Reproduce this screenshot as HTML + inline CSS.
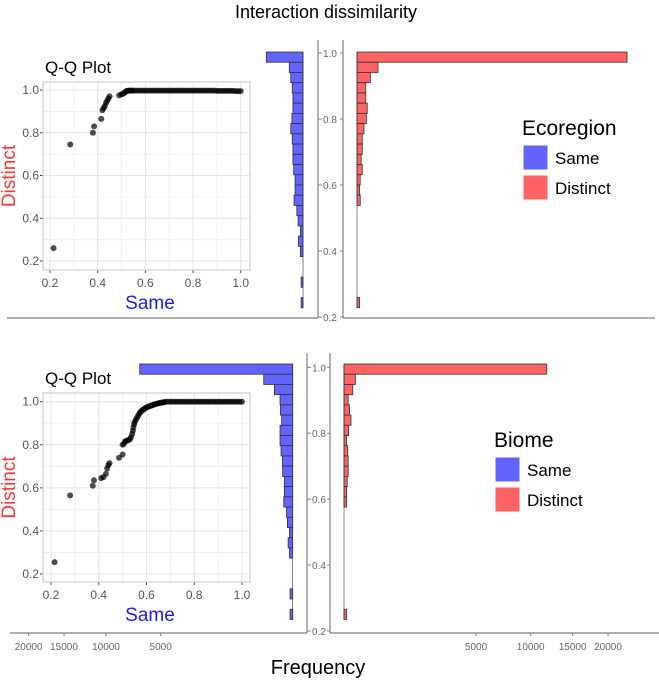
<!DOCTYPE html>
<html><head><meta charset="utf-8"><style>
body{margin:0;background:#fff;}
svg{display:block;font-family:"Liberation Sans",sans-serif;}
</style></head><body>
<svg id="fig" width="659" height="682" viewBox="0 0 659 682">
<text x="326" y="18" font-size="18" text-anchor="middle" fill="#000">Interaction dissimilarity</text>
<text x="318" y="674" font-size="20" text-anchor="middle" fill="#000">Frequency</text>
</svg>
<script>
// Histogram data: bins from top (≈1.0) downward, bin width ~0.031
const ecoSame = [386,54,43,33,29,29,35,43,33,29,29,25,18,18,23,11,7,2,6,2,0,0,1,0,1];
const ecoDistinct = [20915,127,51,22,22,30,25,14,8,8,5,8,3,2,3,0,0,0,0,0,0,0,0,0,2];
const biomeSame = [6716,241,96,46,43,35,46,46,39,30,29,20,20,23,11,8,3,6,3,0,0,0,2,0,2];
const biomeDistinct = [11790,37,22,5,9,14,6,2,4,5,5,3,2,2,0,0,0,0,0,0,0,0,0,0,2];
const freqTicks = [5000,10000,15000,20000];
const valueTicks = [0.2,0.4,0.6,0.8,1.0];
const qqTicks = [0.2,0.4,0.6,0.8,1.0];
// Q-Q points (Same quantile, Distinct quantile)
const ecoQQx = [0.215,0.285,0.38,0.385,0.415,0.42,0.425,0.43,0.435,0.44,0.445,0.45,0.49,0.5,0.505,0.51,0.515,0.52,0.525,0.53,0.535,0.54,0.545,0.55,0.56,0.57,0.58,0.59,0.6,0.61,0.62,0.63,0.64,0.65,0.66,0.67,0.68,0.69,0.7,0.71,0.72,0.73,0.74,0.75,0.76,0.77,0.78,0.79,0.8,0.81,0.82,0.83,0.84,0.85,0.86,0.87,0.88,0.89,0.9,0.91,0.92,0.93,0.94,0.95,0.96,0.97,0.98,0.99,1.0];
const ecoQQy = [0.26,0.745,0.8,0.83,0.865,0.905,0.915,0.925,0.94,0.95,0.96,0.97,0.975,0.98,0.982,0.985,0.99,0.995,0.996,0.997,0.997,0.997,0.997,0.997,0.997,0.997,0.997,0.997,0.997,0.997,0.997,0.997,0.997,0.997,0.997,0.997,0.997,0.997,0.997,0.997,0.997,0.997,0.997,0.997,0.997,0.997,0.997,0.997,0.997,0.997,0.997,0.997,0.997,0.997,0.997,0.997,0.997,0.997,0.996,0.996,0.996,0.996,0.996,0.996,0.996,0.996,0.995,0.995,0.995];
const biomeQQx = [0.215,0.28,0.375,0.38,0.41,0.42,0.43,0.435,0.44,0.445,0.485,0.5,0.5,0.505,0.51,0.515,0.52,0.525,0.53,0.535,0.54,0.543,0.545,0.548,0.55,0.555,0.56,0.565,0.57,0.575,0.58,0.585,0.59,0.595,0.6,0.605,0.61,0.615,0.62,0.625,0.63,0.635,0.64,0.645,0.65,0.655,0.66,0.665,0.67,0.675,0.68,0.69,0.7,0.71,0.72,0.73,0.74,0.75,0.76,0.77,0.78,0.79,0.8,0.81,0.82,0.83,0.84,0.85,0.86,0.87,0.88,0.89,0.9,0.91,0.92,0.93,0.94,0.95,0.96,0.97,0.98,0.99,1.0];
const biomeQQy = [0.255,0.565,0.61,0.635,0.645,0.65,0.665,0.69,0.705,0.715,0.74,0.755,0.8,0.805,0.815,0.818,0.82,0.822,0.825,0.835,0.85,0.865,0.88,0.895,0.905,0.915,0.925,0.935,0.945,0.952,0.958,0.962,0.966,0.97,0.973,0.976,0.978,0.98,0.982,0.984,0.986,0.988,0.99,0.991,0.992,0.994,0.995,0.996,0.997,0.998,1.0,1.0,1.0,1.0,1.0,1.0,1.0,1.0,1.0,1.0,1.0,1.0,1.0,1.0,1.0,1.0,1.0,1.0,1.0,1.0,1.0,1.0,1.0,1.0,1.0,1.0,1.0,1.0,1.0,1.0,1.0,1.0,1.0];

const NS='http://www.w3.org/2000/svg';
const svg=document.getElementById('fig');
function el(tag,attrs,parent,text){const e=document.createElementNS(NS,tag);for(const k in attrs)e.setAttribute(k,attrs[k]);if(text!==undefined)e.textContent=text;(parent||svg).appendChild(e);return e;}
const K=1.867;
function fx(v){return Math.sqrt(v)*K;}
const BLUE='#6363ff', RED='#ff6363', AX='#7f7f7f';

function panel(cfg){
  const g=el('g',{});
  
  
  const vy=v=>cfg.y1+(1-v)*cfg.ppu;
  cfg.same.forEach((c,i)=>{
    if(c<=0)return;
    const top=vy(cfg.top0-i*0.031);
    const w=fx(c);
    const r=el('rect',{x:cfg.sameBase-w,y:top,width:w,height:0.031*cfg.ppu,fill:BLUE,stroke:'#333','stroke-width':0.8},g);
    
    
  });
  el('line',{x1:cfg.sameBase,x2:cfg.sameBase,y1:vy(cfg.top0),y2:vy(cfg.top0-25*0.031),stroke:'#333','stroke-width':0.6},g);
  cfg.dist.forEach((c,i)=>{
    if(c<=0)return;
    const top=vy(cfg.top0-i*0.031);
    const w=fx(c);
    const r=el('rect',{x:cfg.distBase,y:top,width:w,height:0.031*cfg.ppu,fill:RED,stroke:'#333','stroke-width':0.8},g);
    
    
  });
  el('line',{x1:cfg.distBase,x2:cfg.distBase,y1:vy(cfg.top0),y2:vy(cfg.top0-25*0.031),stroke:'#333','stroke-width':0.6},g);
  el('line',{x1:cfg.leftX0,x2:cfg.midLine,y1:cfg.bottom,y2:cfg.bottom,stroke:AX,'stroke-width':1.2},g);
  el('line',{x1:cfg.midLine,x2:cfg.midLine,y1:cfg.axTop,y2:cfg.bottom,stroke:AX,'stroke-width':1.2},g);
  el('line',{x1:cfg.axisX,x2:cfg.axisX,y1:cfg.axTop,y2:cfg.bottom,stroke:AX,'stroke-width':1.2},g);
  el('line',{x1:cfg.axisX,x2:cfg.rightEnd,y1:cfg.bottom,y2:cfg.bottom,stroke:AX,'stroke-width':1.2},g);
  valueTicks.forEach(t=>{
    el('line',{x1:cfg.midLine,x2:cfg.midLine+4,y1:vy(t),y2:vy(t),stroke:AX},g);
    el('line',{x1:cfg.axisX-3,x2:cfg.axisX,y1:vy(t),y2:vy(t),stroke:AX},g);
    const tx=el('text',{x:cfg.midLine+5,y:vy(t)+4,'font-size':10,fill:'#666'},g,t.toFixed(1));
    
    
  });
  if(cfg.freqTicks){
    freqTicks.forEach(t=>{
      const xl=cfg.sameBase-fx(t), xr=cfg.distBase+fx(t);
      el('line',{x1:xl,x2:xl,y1:cfg.bottom,y2:cfg.bottom+3,stroke:AX},g);
      el('line',{x1:xr,x2:xr,y1:cfg.bottom,y2:cfg.bottom+3,stroke:AX},g);
      const a=el('text',{x:xl,y:cfg.bottom+17,'font-size':10,fill:'#666','text-anchor':'middle'},g,String(t));
      
      
      const b=el('text',{x:xr,y:cfg.bottom+17,'font-size':10,fill:'#666','text-anchor':'middle'},g,String(t));
      
      
    });
  }
  const L=cfg.leg;
  const lt=el('text',{x:L.x,y:L.y,'font-size':21,fill:'#000'},g,cfg.legTitle);
  
  
  const k1=el('rect',{x:L.x+1,y:L.y+10,width:25,height:25,fill:BLUE,stroke:'#fff'},g);
  
  
  const k2=el('rect',{x:L.x+1,y:L.y+40,width:25,height:25,fill:RED,stroke:'#fff'},g);
  
  
  const s1=el('text',{x:L.x+33,y:L.y+29,'font-size':17,fill:'#000'},g,'Same');
  
  
  const s2=el('text',{x:L.x+33,y:L.y+59,'font-size':17,fill:'#000'},g,'Distinct');
  
  
  const q=cfg.qq;
  const qx=v=>q.x02+(v-0.2)/0.8*(q.x10-q.x02);
  const qy=v=>q.y02-(v-0.2)/0.8*(q.y02-q.y10);
  const qg=el('g',{},g);
  
  
  el('rect',{x:q.l,y:q.t,width:q.r-q.l,height:q.b-q.t,fill:'#fff'},qg);
  for(let v=0.1;v<=1.05;v+=0.1){
    const X=qx(v),Y=qy(v);
    if(X>q.l&&X<q.r)el('line',{x1:X,x2:X,y1:q.t,y2:q.b,stroke:'#f0f0f0'},qg);
    if(Y>q.t&&Y<q.b)el('line',{x1:q.l,x2:q.r,y1:Y,y2:Y,stroke:'#f0f0f0'},qg);
  }
  qqTicks.forEach(t=>{
    el('line',{x1:qx(t),x2:qx(t),y1:q.t,y2:q.b,stroke:'#e6e6e6'},qg);
    el('line',{x1:q.l,x2:q.r,y1:qy(t),y2:qy(t),stroke:'#e6e6e6'},qg);
    el('line',{x1:qx(t),x2:qx(t),y1:q.b,y2:q.b+3,stroke:'#444'},qg);
    el('line',{x1:q.l-3,x2:q.l,y1:qy(t),y2:qy(t),stroke:'#444'},qg);
    const a=el('text',{x:qx(t),y:q.b+17,'font-size':12,fill:'#555','text-anchor':'middle'},qg,t.toFixed(1));
    
    
    const b=el('text',{x:q.l-4,y:qy(t)+4,'font-size':12,fill:'#555','text-anchor':'end'},qg,t.toFixed(1));
    
    
  });
  el('rect',{x:q.l,y:q.t,width:q.r-q.l,height:q.b-q.t,fill:'none',stroke:'#cfcfcf','stroke-width':1.2},qg);
  q.xs.forEach((v,i)=>{
    const c=el('circle',{cx:qx(v),cy:qy(q.ys[i]),r:3,fill:'#000','fill-opacity':0.7},qg);
    
    
  });
  const tt=el('text',{x:q.l+2,y:q.t-9,'font-size':17,fill:'#000'},qg,'Q-Q Plot');
  
  
  const sx=el('text',{x:150,y:q.b+39,'font-size':19,fill:'#1a1aff','text-anchor':'middle'},qg,'Same');
  
  
  const dy=(q.t+q.b)/2;
  const dt=el('text',{x:15,y:dy,'font-size':19,fill:'#ff3333','text-anchor':'middle',transform:'rotate(-90 15 '+dy+')'},qg,'Distinct');
  
  
}

panel({name:'ecoregion-panel',same:ecoSame,dist:ecoDistinct,y1:53,ppu:330,top0:1.003,
  sameBase:303,distBase:357,midLine:318,axisX:343,axTop:40,bottom:318,leftX0:7,rightEnd:655,
  freqTicks:false,legTitle:'Ecoregion',leg:{x:522,y:135},
  qq:{l:43,r:250,t:82,b:270,x02:50,x10:240.7,y02:261,y10:90,xs:ecoQQx,ys:ecoQQy}});
panel({name:'biome-panel',same:biomeSame,dist:biomeDistinct,y1:367.3,ppu:329.6,top0:1.01,
  sameBase:292.7,distBase:344,midLine:307,axisX:330,axTop:353,bottom:633,leftX0:10,rightEnd:659,
  freqTicks:true,legTitle:'Biome',leg:{x:494,y:447},
  qq:{l:43,r:250,t:393,b:582,x02:51,x10:242,y02:574,y10:401.7,xs:biomeQQx,ys:biomeQQy}});
</script>
</body></html>
